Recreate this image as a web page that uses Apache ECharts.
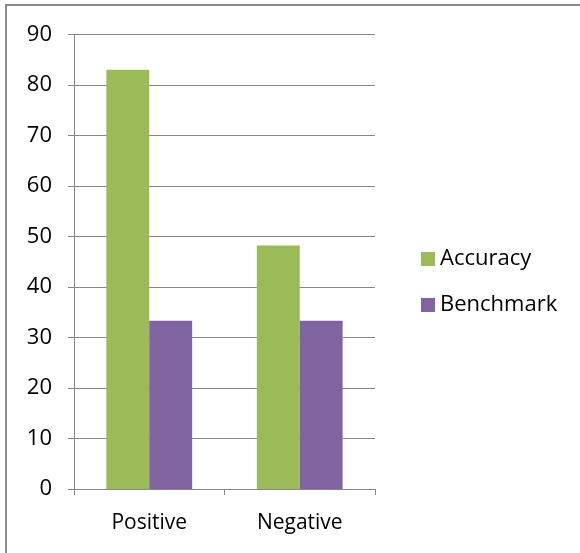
<!DOCTYPE html>
<html><head><meta charset="utf-8">
<script src="https://cdn.jsdelivr.net/npm/echarts@6/dist/echarts.min.js"></script>
<style>html,body{margin:0;padding:0;background:#fff}#c{width:580px;height:553px}</style>
</head><body><div id="c"></div>
<script>
const categories = ['Positive', 'Negative'];
const accuracy = [83.0, 48.2];
const benchmark = [33.3, 33.3];
const yTicks = [0, 90, 10];

const chart = echarts.init(document.getElementById('c'), null, {renderer: 'canvas'});
const font = '"Open Sans"';
chart.setOption({
  animation: false,
  backgroundColor: '#fff',
  graphic: [{
    type: 'polyline', silent: true,
    shape: {points: [[6, 560], [6, 5], [590, 5]]},
    style: {stroke: '#8a8a8a', lineWidth: 2, fill: null}
  }],
  grid: {left: 74, right: 205, top: 34.5, bottom: 64},
  legend: {
    orient: 'vertical', left: 416, top: 243, itemWidth: 14, itemHeight: 14, itemGap: 24,
    icon: 'rect',
    textStyle: {fontFamily: font, fontSize: 22, color: '#000', padding: [0, 0, 0, 0]}
  },
  xAxis: {
    type: 'category', data: categories,
    axisLine: {lineStyle: {color: '#868686', width: 1}},
    axisTick: {show: true, length: 6, lineStyle: {color: '#868686'}},
    axisLabel: {fontFamily: font, fontSize: 21, color: '#000', margin: 24}
  },
  yAxis: {
    type: 'value', min: yTicks[0], max: yTicks[1], interval: yTicks[2],
    axisLine: {show: true, lineStyle: {color: '#868686'}},
    axisTick: {show: true, length: 6, lineStyle: {color: '#868686'}},
    splitLine: {lineStyle: {color: '#868686', width: 1}},
    axisLabel: {fontFamily: font, fontSize: 22, color: '#000', margin: 22}
  },
  series: [
    {name: 'Accuracy', type: 'bar', data: accuracy, barGap: '0%', barCategoryGap: '43%',
     itemStyle: {color: '#9bbb59'}},
    {name: 'Benchmark', type: 'bar', data: benchmark,
     itemStyle: {color: '#8064a2'}}
  ]
});
</script></body></html>
